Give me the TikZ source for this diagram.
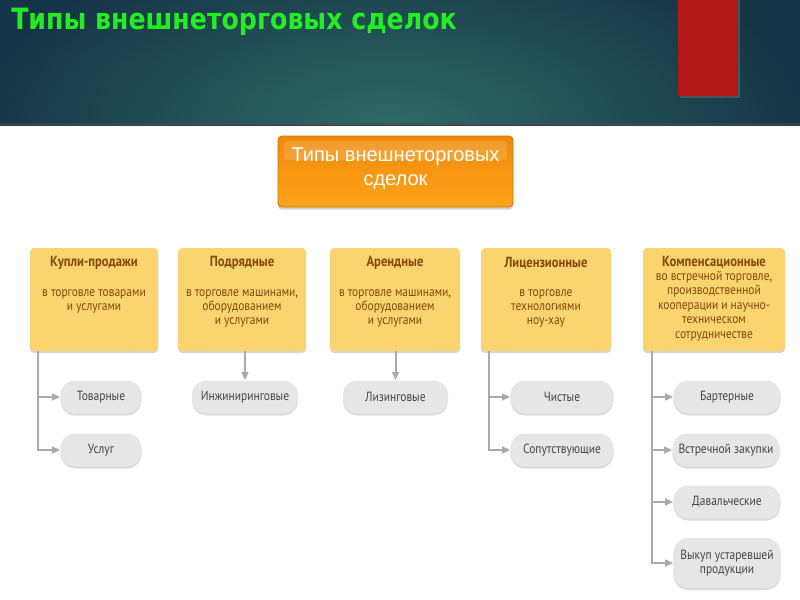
\documentclass[tikz,border=0pt]{standalone}
\usepackage{fontspec}
\setmainfont{Liberation Sans}
\newfontfamily\titlefont{DejaVu Sans}[FakeStretch=0.86]
\newfontfamily\narrowfont{PT Sans}[FakeStretch=0.86]
\usetikzlibrary{shadows,arrows.meta}
\definecolor{bannerdark}{HTML}{163447}
\definecolor{bannerlight}{HTML}{2F6A64}
\definecolor{redbar}{HTML}{B01818}
\definecolor{titlegreen}{HTML}{22EE22}
\definecolor{orangetop}{HTML}{EE8A0A}
\definecolor{orangebot}{HTML}{FFA319}
\definecolor{orangeedge}{HTML}{D77400}
\definecolor{yfill}{HTML}{FAD56F}
\definecolor{ybrown}{HTML}{86460C}
\definecolor{pillfill}{HTML}{E6E6E6}
\definecolor{pilltext}{HTML}{454545}
\definecolor{conn}{HTML}{AAAAAA}
\tikzset{
  ybox/.style={rectangle, rounded corners=3pt, fill=yfill, minimum height=77.25pt, inner sep=0pt,
    drop shadow={shadow xshift=0pt, shadow yshift=-1.5pt, fill=black!45, opacity=0.35}},
  ytitle/.style={inner sep=0pt, text=ybrown, font=\narrowfont\bfseries\fontsize{11}{11}\selectfont},
  ysub/.style={inner sep=0pt, anchor=north, align=center, text=ybrown, font=\narrowfont\fontsize{10}{10.8}\selectfont},
  pill/.style={rectangle, rounded corners=11pt, fill=pillfill, minimum height=24.75pt, inner sep=0pt,
    align=center, text=pilltext, font=\narrowfont\fontsize{10}{10.5}\selectfont,
    drop shadow={shadow xshift=0pt, shadow yshift=-1.5pt, fill=black!40, opacity=0.35}},
  conn/.style={draw=conn, line width=1.5pt, -{Triangle[length=6pt, width=5pt]}}
}
\begin{document}
\begin{tikzpicture}[x=0.75pt,y=-0.75pt]
\useasboundingbox (0,0) rectangle (800,600);
\fill[white] (0,0) rectangle (800,600);
% banner
\fill[bannerdark] (0,0) rectangle (800,126);
\begin{scope}
  \clip (0,0) rectangle (800,124);
  \shade[inner color=bannerlight, outer color=bannerdark] (390,125) ellipse (420 and 190);
\end{scope}
\fill[black!70, opacity=0.5] (0,123) rectangle (800,126);
\fill[black!60, opacity=0.6] (680,0) rectangle (740,98);
\fill[redbar] (678,0) rectangle (738,96);
\node[anchor=west, inner sep=0pt, text=titlegreen, font=\titlefont\bfseries\fontsize{22}{24}\selectfont] (title) at (11,22) {Типы внешнеторговых сделок};
% top orange box
\node[rectangle, rounded corners=3pt, top color=orangetop, bottom color=orangebot, draw=orangeedge, line width=0.6pt,
  minimum width=176.25pt, minimum height=53.25pt, inner sep=0pt,
  drop shadow={shadow xshift=0pt, shadow yshift=-2pt, fill=black!50, opacity=0.35}] (top) at (395.5,171.5) {};
\fill[white, opacity=0.15, rounded corners=3pt] (284,141) rectangle (507,160);
\node[align=center, text=white, inner sep=0pt, font=\fontsize{15}{18}\selectfont] (toptext) at (395.5,168.5) {Типы внешнеторговых\\сделок};
% yellow boxes
\node[ybox, minimum width=96pt] (b1) at (94,299.5) {};
\node[ybox, minimum width=96pt] (b2) at (242,299.5) {};
\node[ybox, minimum width=97.5pt] (b3) at (395,299.5) {};
\node[ybox, minimum width=97.5pt] (b4) at (546,299.5) {};
\node[ybox, minimum width=106.5pt] (b5) at (714,299.5) {};
\node[ytitle] (b1t) at (94,263) {Купли-продажи};
\node[ytitle] (b2t) at (242,263) {Подрядные};
\node[ytitle] (b3t) at (395,263) {Арендные};
\node[ytitle] (b4t) at (546,263) {Лицензионные};
\node[ysub] (b1s) at (94,289) {в торговле товарами\\и услугами};
\node[ysub] (b2s) at (242,289) {в торговле машинами,\\оборудованием\\и услугами};
\node[ysub] (b3s) at (395,289) {в торговле машинами,\\оборудованием\\и услугами};
\node[ysub] (b4s) at (546,289) {в торговле\\технологиями\\ноу-хау};
\node[ysub] (b5s) at (714,255.5) {{\bfseries\fontsize{11}{10.8}\selectfont Компенсационные}\\во встречной торговле,\\производственной\\кооперации и научно-\\техническом\\сотрудничестве};
% pills
\node[pill, minimum width=60.75pt] (p1) at (101,397) {Товарные};
\node[pill, minimum width=60.75pt] (p2) at (101,450) {Услуг};
\node[pill, minimum width=79.5pt] (p3) at (245,397) {Инжиниринговые};
\node[pill, minimum width=78.75pt] (p4) at (395.5,397) {Лизинговые};
\node[pill, minimum width=77.25pt] (p5) at (562,397) {Чистые};
\node[pill, minimum width=77.25pt] (p6) at (562,450) {Сопутствующие};
\node[pill, minimum width=80.25pt] (p7) at (727,397) {Бартерные};
\node[pill, minimum width=80.25pt] (p8) at (726,450) {Встречной закупки};
\node[pill, minimum width=80.25pt] (p9) at (727,502) {Давальческие};
\node[pill, minimum width=80.25pt, minimum height=37.5pt] (p10) at (727,563) {Выкуп устаревшей\\продукции};
% connectors
\draw[conn] (b1.south west) ++(8,0) |- (p1.west);
\draw[conn] (b1.south west) ++(8,0) |- (p2.west);
\draw[conn] (p3.north |- b2.south) -- (p3.north);
\draw[conn] (p4.north |- b3.south) -- (p4.north);
\draw[conn] (b4.south west) ++(8,0) |- (p5.west);
\draw[conn] (b4.south west) ++(8,0) |- (p6.west);
\draw[conn] (b5.south west) ++(9,0) |- (p7.west);
\draw[conn] (b5.south west) ++(9,0) |- (p8.west);
\draw[conn] (b5.south west) ++(9,0) |- (p9.west);
\draw[conn] (b5.south west) ++(9,0) |- (p10.west);
\end{tikzpicture}
\end{document}
